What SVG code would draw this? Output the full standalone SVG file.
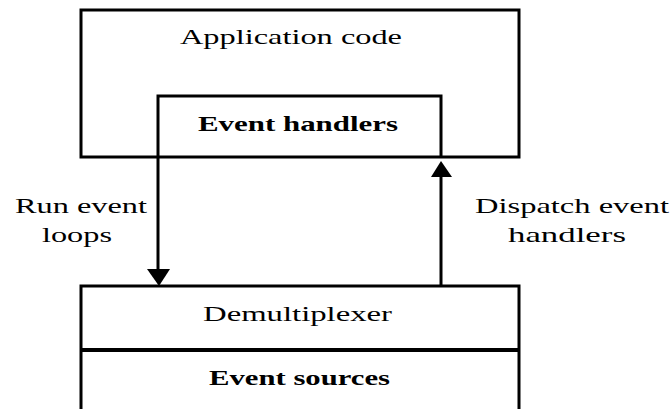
<svg xmlns="http://www.w3.org/2000/svg" width="672" height="409" viewBox="0 0 672 409">
  <style>
    .box { fill: none; stroke: #000; stroke-width: 3; }
    .wire { fill: none; stroke: #000; stroke-width: 3; }
    .head { fill: #000; stroke: none; }
    .lbl { font-family: "Liberation Serif", "Times New Roman", serif; font-size: 21px; fill: #000; }
    .strong { font-weight: bold; }
  </style>
  <rect width="672" height="409" fill="#fff"/>

  <g id="application-code">
    <rect class="box" x="81" y="10" width="438" height="147"/>
    <text class="lbl" x="180" y="44" textLength="222" lengthAdjust="spacingAndGlyphs">Application code</text>
  </g>

  <g id="event-handlers">
    <polyline class="box" points="158,157 158,96 441,96 441,157"/>
    <text class="lbl strong" x="198" y="131" textLength="200" lengthAdjust="spacingAndGlyphs">Event handlers</text>
  </g>

  <g id="demultiplexer">
    <polyline class="box" points="81,412 81,286 519,286 519,412"/>
    <text class="lbl" x="203" y="321" textLength="189" lengthAdjust="spacingAndGlyphs">Demultiplexer</text>
  </g>

  <g id="event-sources">
    <line x1="81" y1="350" x2="519" y2="350" stroke="#000" stroke-width="4"/>
    <text class="lbl strong" x="209" y="385" textLength="181" lengthAdjust="spacingAndGlyphs">Event sources</text>
  </g>

  <g id="connectors">
    <!-- run event loops: handlers down to demultiplexer -->
    <line class="wire" x1="158" y1="157" x2="158" y2="272"/>
    <polygon class="head" points="147,269 170,269 159,286"/>
    <text class="lbl" x="15" y="213" textLength="132" lengthAdjust="spacingAndGlyphs">Run event</text>
    <text class="lbl" x="42" y="242" textLength="70" lengthAdjust="spacingAndGlyphs">loops</text>

    <!-- dispatch: demultiplexer up to handlers -->
    <line class="wire" x1="441" y1="286" x2="441" y2="174"/>
    <polygon class="head" points="441,161 452,177 431,177"/>
    <text class="lbl" x="475" y="213" textLength="194" lengthAdjust="spacingAndGlyphs">Dispatch event</text>
    <text class="lbl" x="508" y="242" textLength="118" lengthAdjust="spacingAndGlyphs">handlers</text>
  </g>
</svg>
